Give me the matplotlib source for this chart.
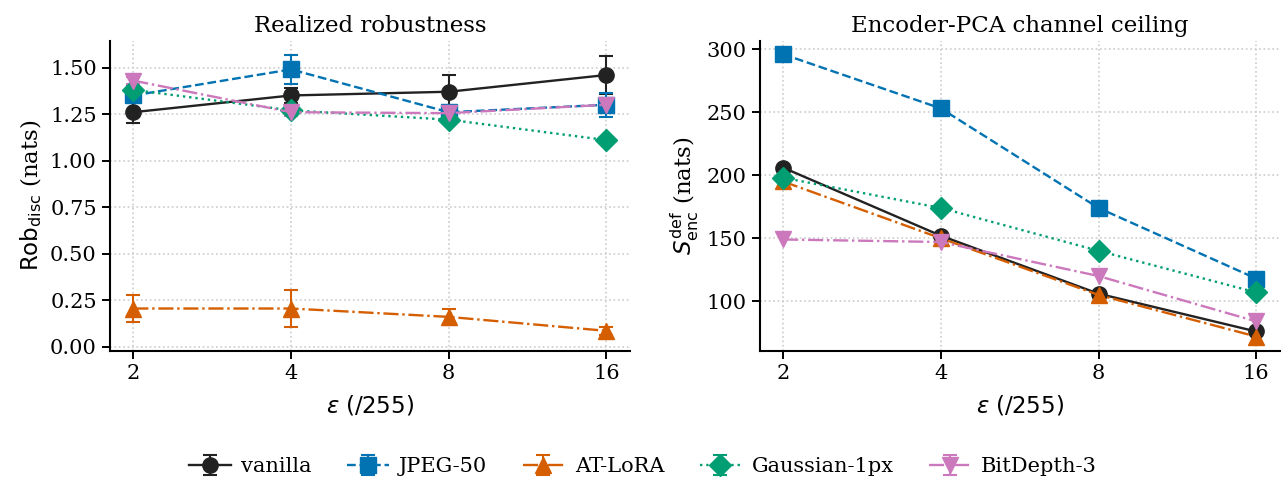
import numpy as np
import matplotlib
matplotlib.use("Agg")
import matplotlib.pyplot as plt
from matplotlib.ticker import FixedLocator, NullLocator, FixedFormatter

eps = [2, 4, 8, 16]
methods = ["vanilla", "JPEG-50", "AT-LoRA", "Gaussian-1px", "BitDepth-3"]

# realized robustness (nats) and error bars
rob = {
    "vanilla":      [1.26, 1.35, 1.37, 1.46],
    "JPEG-50":      [1.35, 1.49, 1.26, 1.30],
    "AT-LoRA":      [0.205, 0.205, 0.16, 0.085],
    "Gaussian-1px": [1.38, 1.27, 1.22, 1.11],
    "BitDepth-3":   [1.43, 1.26, 1.255, 1.30],
}
rob_err = {
    "vanilla":      [0.06, 0.04, 0.09, 0.10],
    "JPEG-50":      [0.03, 0.08, 0.02, 0.065],
    "AT-LoRA":      [0.07, 0.10, 0.045, 0.02],
    "Gaussian-1px": [0.02, 0.02, 0.02, 0.01],
    "BitDepth-3":   [0.02, 0.02, 0.02, 0.02],
}
# encoder-PCA ceiling (nats)
ceil = {
    "vanilla":      [206, 152, 106, 76],
    "JPEG-50":      [296, 253, 174, 118],
    "AT-LoRA":      [195, 150, 105, 72],
    "Gaussian-1px": [198, 174, 140, 107],
    "BitDepth-3":   [149, 147, 120, 84],
}

colors = {"vanilla": "#222222", "JPEG-50": "#0173B2", "AT-LoRA": "#D55E00",
          "Gaussian-1px": "#029E73", "BitDepth-3": "#CC78BC"}
markers = {"vanilla": "o", "JPEG-50": "s", "AT-LoRA": "^",
           "Gaussian-1px": "D", "BitDepth-3": "v"}
styles = {"vanilla": "-", "JPEG-50": "--", "AT-LoRA": "-.",
          "Gaussian-1px": ":", "BitDepth-3": "-."}

plt.rcParams["font.family"] = "DejaVu Serif"
plt.rcParams["mathtext.fontset"] = "dejavusans"

fig, (ax1, ax2) = plt.subplots(1, 2, figsize=(12.86, 4.83), dpi=100)
fig.subplots_adjust(left=0.0855, right=0.995, top=0.916, bottom=0.274, wspace=0.25)

for m in methods:
    ax1.errorbar(eps, rob[m], yerr=rob_err[m], color=colors[m], marker=markers[m],
                 ls=styles[m], lw=1.7, ms=11, capsize=5, elinewidth=1.5,
                 capthick=1.5, label=m)
    ax2.plot(eps, ceil[m], color=colors[m], marker=markers[m], ls=styles[m],
             lw=1.7, ms=11)

for ax in (ax1, ax2):
    ax.set_xscale("log", base=2)
    ax.xaxis.set_major_locator(FixedLocator(eps))
    ax.xaxis.set_major_formatter(FixedFormatter([str(e) for e in eps]))
    ax.xaxis.set_minor_locator(NullLocator())
    ax.set_xlim(2 / 2 ** 0.148, 16 * 2 ** 0.148)
    ax.grid(True, ls=":", color="#cccccc", lw=1.2)
    ax.spines["top"].set_visible(False)
    ax.spines["right"].set_visible(False)
    ax.spines["left"].set_linewidth(1.5)
    ax.spines["bottom"].set_linewidth(1.5)
    ax.tick_params(labelsize=15, width=1.4, length=6)
    ax.set_xlabel(r"$\varepsilon$ (/255)", fontsize=16.5, family="DejaVu Sans",
                  labelpad=8)

ax1.set_ylim(-0.0215, 1.645)
ax1.set_yticks([0, 0.25, 0.5, 0.75, 1.0, 1.25, 1.5])
ax1.set_ylabel(r"$\mathrm{Rob}_{\mathrm{disc}}$ (nats)", fontsize=16.5)
ax1.set_title("Realized robustness", fontsize=16.5)

ax2.set_ylim(60.8, 306.8)
ax2.set_yticks([100, 150, 200, 250, 300])
ax2.set_ylabel(r"$S^{\mathrm{def}}_{\mathrm{enc}}$ (nats)", fontsize=16.5)
ax2.set_title("Encoder-PCA channel ceiling", fontsize=16.5)

handles, labels = ax1.get_legend_handles_labels()
fig.legend(handles, labels, loc="lower center", ncol=5, frameon=False,
           fontsize=15, bbox_to_anchor=(0.5, -0.025), handlelength=2.0,
           columnspacing=1.7, handletextpad=0.5)

fig.savefig("out.png", dpi=100)
